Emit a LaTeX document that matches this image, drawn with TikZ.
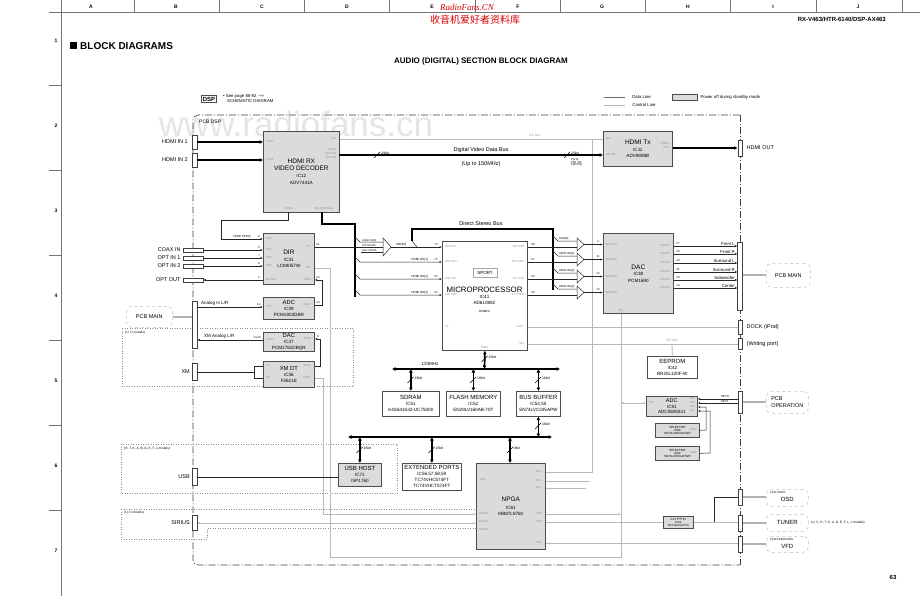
\documentclass[tikz,border=0pt]{standalone}
\usepackage{fontspec}
\setmainfont{Liberation Sans}
\newfontfamily\cjkfont{Noto Sans CJK SC}
\newfontfamily\wmfont{Liberation Serif}
\usetikzlibrary{arrows.meta,positioning}

\newcommand{\fsz}[1]{\fontsize{#1}{#1}\selectfont}
\newcommand{\icx}[1]{{\fsz{4.6}#1}}
\newcommand{\icy}[1]{{\fsz{3}#1}}
% bus width mark: name, x, y, text
\newcommand{\bwmark}[4]{%
  \draw[line width=0.4pt] (#2-3,#3+3) -- (#2+3,#3-3);
  \node[font=\fsz{3.5}, anchor=west] (#1) at (#2+4,#3-2) {#4};}

\begin{document}
\begin{tikzpicture}[
  x=1pt, y=-1pt,
  every node/.style={inner sep=0pt},
  chip/.style={draw=black!70, fill=black!14, line width=0.7pt, align=center, anchor=north west, font=\fsz{6.5}},
  wchip/.style={chip, fill=white},
  pinlbl/.style={font=\fsz{2.8}, text=black!45},
  pno/.style={font=\fsz{2.8}},
  sig/.style={font=\fsz{5.5}},
  lbl/.style={font=\fsz{3.2}},
  dline/.style={black!85, line width=0.5pt},
  cline/.style={black!28, line width=0.8pt},
  bus/.style={line width=1.7pt},
  arr/.style={-{Latex[length=2.5pt,width=2.2pt]}},
  busarr/.style={-{Latex[length=3.5pt,width=4pt]}, line width=1.3pt},
  barr/.style={{Latex[length=3.5pt,width=4pt]}-{Latex[length=3.5pt,width=4pt]}, line width=1.7pt},
  vjack/.style={draw=black!75, fill=white, line width=0.5pt, minimum width=4.5, minimum height=14},
  hjack/.style={draw=black!75, fill=white, line width=0.5pt, minimum width=20, minimum height=4},
  pcb/.style={draw=black!25, dashed, rounded corners=5pt, line width=0.5pt, anchor=north west, font=\fsz{5.5}, align=left},
  link/.style={black!30, line width=2.4pt},
  region/.style={draw=black!45, dotted, line width=0.5pt},
  border/.style={black!75, line width=0.6pt, dash pattern=on 7pt off 2pt on 1pt off 2pt},
  mux/.style={draw=black!85, line width=0.5pt, fill=white}
]
\useasboundingbox (0,0) rectangle (920,596);
\fill[white] (0,0) rectangle (920,596);

% ---------- Page frame ----------
\draw[black!55, line width=0.5pt] (49,12) -- (920,12);
\draw[black!55, line width=0.5pt] (61,0) -- (61,596);
\foreach \xx in {134,219,304,389,475,560,645,730,816,902}
  \draw[black!55, line width=0.5pt] (\xx,0) -- (\xx,12);
\foreach \lt/\xx in {A/91,B/176,C/262,D/347,E/432,F/518,G/602,H/688,I/773,J/858}
  \node[font=\fsz{5}\bfseries] (col\lt) at (\xx,6.5) {\lt};
\foreach \yy in {85,170,255,340,425,510}
  \draw[black!55, line width=0.5pt] (49,\yy) -- (61,\yy);
\foreach \nn/\yy in {1/41,2/126,3/211,4/296,5/381,6/466,7/551}
  \node[font=\fsz{5}\bfseries] (row\nn) at (56,\yy) {\nn};

% ---------- Watermarks ----------
\node[text=black!10, font=\fsz{35}] (wm) at (296,124) {www.radiofans.cn};
\node[text=red!85!black, font=\wmfont\itshape\fsz{9}] (rf) at (467,7) {RadioFans.CN};
\node[text=red!85!black, font=\cjkfont\fsz{10}] (rfcn) at (475,20) {收音机爱好者资料库};

% ---------- Titles ----------
\node[anchor=west, font=\fsz{10}\bfseries] (hdr) at (70,46) {\rule{7pt}{7pt}\hspace{3pt}BLOCK DIAGRAMS};
\node[font=\fsz{8}\bfseries] (ttl) at (481,61) {AUDIO (DIGITAL) SECTION BLOCK DIAGRAM};
\node[anchor=east, font=\fsz{6}\bfseries] (model) at (886,19) {RX-V463/HTR-6140/DSP-AX463};
\node[font=\fsz{6}\bfseries] (pg) at (893,577) {63};

% ---------- Legend ----------
\node[draw=black!70, font=\fsz{6}\bfseries, inner sep=1.2pt] (dsp) at (209,99) {DSP};
\node[anchor=north west, font=\fsz{4.3}, align=left] (dspref) at (223,94) {• See page 85-92 $\rightarrow$\\[1pt]\hspace{4pt}SCHEMATIC DIAGRAM};
\draw[black!60, line width=0.7pt] (604,97) -- (625,97) node[right=7pt, font=\fsz{4.3}, text=black] (lgd) {Data Line};
\draw[cline] (604,105) -- (625,105) node[right=7pt, font=\fsz{4.3}, text=black] (lgc) {Control Line};
\node[draw=black!70, fill=black!14, minimum width=25, minimum height=6, anchor=west] (lgp) at (672,97) {};
\node[right=3pt of lgp, font=\fsz{4.3}] (lgpt) {Power off during standby mode};

% ---------- Model regions ----------
\draw[region] (122,328) rectangle (353,386);
\node[lbl, anchor=west] (reg1) at (125,333) {(U, C models)};
\draw[region] (121,444) rectangle (397,493);
\node[lbl, anchor=west] (reg2) at (124,449) {(R, T, K, A, B, G, E, F, L models)};
\draw[region] (121,509) -- (495,509) -- (495,528) -- (207,528) -- (207,539) -- (121,539) -- cycle;
\node[lbl, anchor=west] (reg3) at (124,513) {(U, C models)};

% ---------- PCB DSP border ----------
\draw[border, rounded corners=5pt] (740,115) -- (193,115) -- (193,565) -- (740,565);
\draw[border] (740,115) -- (740,565);
\node[anchor=west, font=\fsz{5}] (pcbdsp) at (199,122) {PCB DSP};

% ---------- Control lines (under everything) ----------
\draw[cline] (339,139) -- (603,139);
\node[lbl, text=black!40] (i2cbus) at (535,135.5) {I2C Bus};
\draw[cline] (592,139) -- (592,472) -- (545,472);
\draw[cline] (545,481) -- (590,481);
\draw[cline] (545,488) -- (586,488);
\draw[cline] (314,268) -- (330,268) -- (330,557) -- (621,557) -- (621,313);
\draw[cline] (527,327) -- (737.7,327);
\draw[cline] (527,344) -- (737.7,344);
\node[lbl, text=black!40] (spibus) at (672,340.5) {SPI Bus};
\draw[cline, arr] (314,378) -- (323,378) -- (323,514) -- (476,514);
\draw[cline, arr] (545,514) -- (621,514);
\draw[cline, {Latex[length=2.5pt,width=2.2pt]}-{Latex[length=2.5pt,width=2.2pt]}] (621,403) -- (646,403);
\draw[cline, {Latex[length=2.5pt,width=2.2pt]}-{Latex[length=2.5pt,width=2.2pt]}] (197,523) -- (476,523);
\draw[cline] (545,543) -- (737.7,543);
\draw[cline] (545,522) -- (663,522);
\draw[cline] (693,522) -- (737.7,522);

% ---------- HDMI ----------
\node[chip, minimum width=76, minimum height=81] (hdmirx) at (263,131) {HDMI RX\\VIDEO DECODER\\[1pt]\icx{IC12}\\\icx{ADV7441A}};
\node[chip, minimum width=69, minimum height=35] (hdmitx) at (603,131) {HDMI Tx\\[0.5pt]\icx{IC11}\\\icx{ADV9889B}};
\node[vjack] (hin1) at (194.5,142) {};
\node[vjack] (hin2) at (194.5,160) {};
\node[sig, left=4pt of hin1] (hin1l) {HDMI IN 1};
\node[sig, left=4pt of hin2] (hin2l) {HDMI IN 2};
\draw[busarr] (hin1.east) -- (hin1.east -| hdmirx.west);
\draw[busarr] (hin2.east) -- (hin2.east -| hdmirx.west);
\node[vjack, minimum height=16] (hout) at (740,148) {};
\node[sig, right=4pt of hout] (houtl) {HDMI OUT};
\draw[busarr] (hout.west -| hdmitx.east) -- (hout.west);
\draw[busarr] (339,155) -- (603,155);
\bwmark{bw1}{377}{155}{24bit}
\bwmark{bw2}{567}{155}{24bit}
\node[font=\fsz{2.8}, anchor=north west, align=left] (plist) at (571,158) {P[0:9]\\P[11:19]\\P[22:29]};
\node[sig] (dvbus) at (481,150) {Digital Video Data Bus};
\node[sig] (dvspd) at (481,164) {(Up to 150MHz)};
\foreach \t/\xx/\yy in {PortA/266/142, PortB/266/160, I2C/606/139, D[0:23]/606/155}
  \node[pinlbl, anchor=west] (pw-\xx-\yy) at (\xx,\yy) {\t};
\foreach \t/\xx/\yy in {I2C/336/139, P[0:9]/336/150, P[11:19]/336/154, P[22:29]/336/158, TMDS/669/144, Port/669/148}
  \node[pinlbl, anchor=east] (pe-\xx-\yy) at (\xx,\yy) {\t};
\node[pinlbl, anchor=south] (rxsp) at (289,210) {SPDIF};
\node[pinlbl, anchor=south] (rxpcm) at (324,210) {I2S PCM Data};

% ---------- DIR / ADC / XM ----------
\node[chip, minimum width=51, minimum height=51] (dir) at (263,233) {DIR\\[0.5pt]\icx{IC31}\\\icx{LC89057W}};
\node[chip, minimum width=51, minimum height=22, font=\fsz{5.8}] (adc) at (263,297) {ADC\\\icx{IC39}\\\icx{PCM1803DBR}};
\node[chip, minimum width=51, minimum height=19, font=\fsz{5.8}] (xmdac) at (263,332) {DAC\\\icx{IC37}\\\icx{PCM1781DBQR}};
\node[chip, minimum width=51, minimum height=26, font=\fsz{5.8}] (xmdt) at (263,361) {XM DT\\\icx{IC36}\\\icx{F2621E}};
\foreach \t/\xx/\yy in {RX0/266/239, RX1/266/250, RX3/266/258, RX4/266/266, RX OUT/266/280, VIN/266/307, VOUT/266/340, TX/266/366, RX/266/378}
  \node[pinlbl, anchor=west] (pw-\xx-\yy) at (\xx,\yy) {\t};
\foreach \t/\xx/\yy in {P1/311/247, SPI/311/268, SDIN/311/280, DOUT/311/305, DATA/311/339, DATA/311/366, UART/311/378}
  \node[pinlbl, anchor=east] (pe-\xx-\yy) at (\xx,\yy) {\t};
\foreach \t/\xx/\yy in {8/259/237, 5/259/248, 7/259/256, 6/259/264, 1/259/278, 21/318/245, 24/318/278, 10/318/303, 8/318/337}
  \node[pno] (pn-\xx-\yy) at (\xx,\yy) {\t};
\node[pno, anchor=east] (pnadc) at (261,305) {1,2};
\node[pno, anchor=east] (pnxm) at (261,338) {14,15};

\node[hjack] (jcoax) at (193,250) {};
\node[hjack] (jopt1) at (193,258) {};
\node[hjack] (jopt2) at (193,266) {};
\node[hjack] (jout) at (193,280) {};
\node[sig, left=2pt of jcoax] (jcoaxl) {COAX IN};
\node[sig, left=2pt of jopt1] (jopt1l) {OPT IN 1};
\node[sig, left=2pt of jopt2] (jopt2l) {OPT IN 2};
\node[sig, left=2pt of jout] (joutl) {OPT OUT};
\draw[dline, arr] (jcoax.east) -- (jcoax.east -| dir.west);
\draw[dline, arr] (jopt1.east) -- (jopt1.east -| dir.west);
\draw[dline, arr] (jopt2.east) -- (jopt2.east -| dir.west);
\draw[dline, arr] (jout.east -| dir.west) -- (jout.east);

\coordinate (rxspdif) at (288,212);
\coordinate (rxi2s) at (322,212);
\draw[dline, arr] (rxspdif) -- (288,220) -- (221,220) -- (221,239) -- (263,239);
\node[font=\fsz{3}] (hspdif) at (242,236) {HDMI SPDIF};
\draw[dline, arr] (adc.east |- 0,305) -- (322,305) -- (322,280) -- (dir.east |- 0,280);
\draw[dline, arr] (xmdt.east |- 0,366) -- (320,366) -- (320,339) -- (xmdac.east |- 0,339);

\node[draw=black!75, fill=white, line width=0.5pt, minimum width=5, minimum height=47, anchor=north] (jana) at (194.5,301) {};
\node[pcb, minimum width=46, minimum height=21, align=center] (pcbmainl) at (126,306) {PCB MAIN};
\draw[link] (pcbmainl.east) -- (pcbmainl.east -| jana.west);
\draw[dline, arr] (jana.east |- 0,307) -- (adc.west |- 0,307);
\node[font=\fsz{4.5}, anchor=south west] (anain) at (201,305.5) {Analog In L/R};
\draw[dline, arr] (xmdac.west |- 0,340) -- (jana.east |- 0,340);
\node[font=\fsz{4.5}, anchor=south west] (xmana) at (204,338.5) {XM Analog L/R};

\node[vjack, minimum height=17] (jxm) at (194.5,372) {};
\node[sig, left=2pt of jxm] (jxml) {XM};
\draw[dline] (jxm.east) -- (254,372);
\draw[dline] (xmdt.west |- 0,366) -- (254,366) -- (254,378) -- (xmdt.west |- 0,378);

% ---------- Microprocessor ----------
\node[wchip, minimum width=85, minimum height=109] (mcu) at (442,241) {};
\node[draw=black!35, line width=0.4pt, font=\fsz{4.5}, minimum width=24, minimum height=9] (sport) at (485,272.5) {SPORT};
\node[font=\fsz{7.8}] (mcut) at (484.5,290) {MICROPROCESSOR};
\node[font=\fsz{4.6}] (mcuic) at (484.5,297) {IC41};
\node[font=\fsz{4.6}] (mcupn) at (484.5,303) {AD61089Z};
\node[font=\fsz{3}] (mcuclk) at (484.5,311) {333MHz};
\foreach \t/\xx/\yy in {DR0 PRI/445/247, DR0 SEC/445/262, DR1 PRI/445/279, DR1 SEC/445/295, PF/445/327}
  \node[pinlbl, anchor=west] (pw-\xx-\yy) at (\xx,\yy) {\t};
\foreach \t/\xx/\yy in {DT0 PRI/524/247, DT0 SEC/524/262, DT1 PRI/524/279, DT1 SEC/524/295, UART/524/327, SPI/524/344}
  \node[pinlbl, anchor=east] (pe-\xx-\yy) at (\xx,\yy) {\t};
\node[pinlbl, anchor=south] (ebiu) at (485,348.5) {EBIU};
\foreach \t/\xx/\yy in {74/436/245, 75/436/260, 55/436/277, 52/436/293, 68/533/245, 67/533/260, 59/533/277, 58/533/293}
  \node[pno] (pn-\xx-\yy) at (\xx,\yy) {\t};

% left side: HDMI I2S bus and mux
\draw[bus] (rxi2s) -- (322,224) -- (355,224) -- (355,297);
\draw[dline] (355,237) -- (360,242) -- (383,242);
\draw[dline] (dir.east |- 0,247) -- (383,247);
\draw[dline] (361,252) -- (383,252);
\draw[mux] (383,238) -- (391,247) -- (383,256) -- cycle;
\node[font=\fsz{2.6}, anchor=south west] (mx1) at (362,242) {HDMI I2S[0]};
\node[font=\fsz{2.6}, anchor=south west] (mx2) at (362,247) {DIR SDATA};
\node[font=\fsz{2.6}, anchor=south west] (mx3) at (362,252) {ADC SDATA};
\draw[dline, arr] (391,247) -- (mcu.west |- 0,247);
\node[font=\fsz{3}, anchor=south west] (sdo0l) at (396,246) {SDO[0]};
\draw[dline, arr] (355,257) -- (360,262) -- (mcu.west |- 0,262);
\draw[dline, arr] (355,274) -- (360,279) -- (mcu.west |- 0,279);
\draw[dline, arr] (355,290) -- (360,295) -- (mcu.west |- 0,295);
\node[font=\fsz{3}, anchor=south east] (i2s1l) at (428,261) {HDMI I2S[1]};
\node[font=\fsz{3}, anchor=south east] (i2s2l) at (428,278) {HDMI I2S[2]};
\node[font=\fsz{3}, anchor=south east] (i2s3l) at (428,294) {HDMI I2S[3]};

% direct stereo bus
\draw[bus] (412,241) -- (412,229) -- (553,229) -- (553,290);
\draw[dline] (412,241) -- (417,247);
\node[sig] (dsbus) at (481,223.5) {Direct Stereo Bus};

% ---------- DAC (IC38) ----------
\node[chip, minimum width=70, minimum height=80] (dac) at (603,233) {DAC\\\icx{IC38}\\\icx{PCM1690}};
\foreach \yy/\nm [count=\i] in {247/SDO[0], 262/HDMI I2S[1], 279/HDMI I2S[2], 295/HDMI I2S[3]} {
  \draw[dline] (mcu.east |- 0,\yy) -- (577,\yy);
  \draw[dline] (553,\yy-11) -- (558,\yy-6) -- (577,\yy-6);
  \draw[mux] (577,\yy-9) -- (584,\yy-2.5) -- (577,\yy+4) -- cycle;
  \draw[dline, arr] (584,\yy-2.5) -- (dac.west |- 0,\yy-2.5);
  \node[font=\fsz{2.8}, anchor=south west] (ds\i) at (559,\yy-6.5) {\nm};
  \node[pinlbl, anchor=west] (dd\i) at (606,\yy-2.5) {DATA(\i)};
}
\foreach \t/\yy in {4/242, 11/257, 12/274, 15/290}
  \node[pno] (pnd\t) at (598,\yy) {\t};
\foreach \yy/\nm/\pn [count=\i] in {246/Front L/27, 254/Front R/28, 263/Surround L/30, 272/Surround R/31, 280/Subwoofer/20, 288/Center/19} {
  \draw[dline, arr] (dac.east |- 0,\yy) -- (737.5,\yy);
  \node[font=\fsz{4.3}, anchor=south east] (ch\i) at (735,\yy-0.6) {\nm};
  \node[pinlbl, anchor=east] (vo\i) at (670,\yy) {VOUT\i};
  \node[pno] (pv\i) at (678,\yy-2) {\pn};
}
\node[pinlbl, anchor=south] (dacspi) at (621,311.5) {SPI};
\node[draw=black!75, fill=white, line width=0.5pt, minimum width=5, minimum height=68, anchor=north] (jmain) at (740,242) {};
\node[pcb, minimum width=44, minimum height=24, align=center] (pcbmain) at (766,263) {PCB MAIN};
\draw[link] (jmain.east |- pcbmain.west) -- (pcbmain.west);

% ---------- DOCK / writing port ----------
\node[vjack] (jdock) at (740,327) {};
\node[sig, right=4pt of jdock] (jdockl) {DOCK (iPod)};
\node[vjack, minimum height=11] (jwrite) at (740,344) {};
\node[sig, right=4pt of jwrite] (jwritel) {(Writing port)};

% ---------- EEPROM / key ADC ----------
\node[wchip, minimum width=50, minimum height=22, font=\fsz{6}] (eeprom) at (647,356) {EEPROM\\\icx{IC42}\\\icx{BR25L320F-W}};
\draw[cline, arr] (672,344) -- (eeprom.north);
\node[chip, minimum width=51, minimum height=20, font=\fsz{5.6}] (kadc) at (646,396) {ADC\\\icx{IC91}\\\icx{ADC0845021}};
\node[pinlbl, anchor=west] (kspi) at (649,403) {SPI};
\foreach \i/\yy in {1/399, 2/403, 3/407, 4/411}
  \node[pinlbl, anchor=east] (kin\i) at (695,\yy) {IN\i};
\node[chip, minimum width=44, minimum height=14, font=\fsz{3}] (sel1) at (655,423) {SELECTOR\\IC80\\SN74LV4051APWR};
\node[chip, minimum width=44, minimum height=14, font=\fsz{3}] (sel2) at (655,446) {SELECTOR\\IC82\\SN74LV4051APWR};
\node[pinlbl, anchor=east] (com1) at (697,430) {COM};
\node[pinlbl, anchor=east] (com2) at (697,453) {COM};
\draw[dline, arr] (sel1.east) -- (706,430) -- (706,407) -- (kadc.east |- 0,407);
\draw[dline, arr] (sel2.east) -- (710,453) -- (710,411) -- (kadc.east |- 0,411);
\node[vjack, minimum height=22] (jope) at (740,402) {};
\draw[dline, arr] (jope.west |- 0,399) -- (kadc.east |- 0,399);
\draw[dline, arr] (jope.west |- 0,403) -- (kadc.east |- 0,403);
\node[font=\fsz{3}] (key0) at (725,396.5) {KEY0};
\node[font=\fsz{3}] (key1) at (725,401) {KEY1};
\node[pcb, minimum width=42, minimum height=22] (pcbope) at (766,391) {PCB\\[1pt]OPERATION};
\draw[link] (jope.east |- pcbope.west) -- (pcbope.west);

% ---------- Memory bus ----------
\draw[barr] (mcu.south) -- (484.5,369);
\bwmark{bw3}{484.5}{359}{16bit}
\draw[barr] (392,369) -- (560,369);
\node[font=\fsz{4.5}] (clk) at (430,364) {133MHz};
\node[wchip, minimum width=57, minimum height=25, font=\fsz{6}] (sdram) at (382,391) {SDRAM\\\icx{IC51}\\\icx{K4S641632-UC75000}};
\node[wchip, minimum width=54, minimum height=25, font=\fsz{6}] (flash) at (446,391) {FLASH MEMORY\\\icx{IC52}\\\icx{EN29LV160AB-70T}};
\node[wchip, minimum width=44, minimum height=25, font=\fsz{6}] (busbuf) at (516,391) {BUS BUFFER\\\icx{IC54,55}\\\icx{SN74LVC245APW}};
\draw[barr] (sdram.north |- 0,369) -- (sdram.north);
\draw[barr] (flash.north |- 0,369) -- (flash.north);
\draw[barr] (busbuf.north |- 0,369) -- (busbuf.north);
\bwmark{bw4}{410.5}{380}{16bit}
\bwmark{bw5}{473}{380}{16bit}
\bwmark{bw6}{538}{380}{16bit}
\draw[barr] (348,437) -- (552,437);
\draw[barr] (busbuf.south) -- (busbuf.south |- 0,437);
\bwmark{bw7}{538}{426}{16bit}

% ---------- Peripheral bus ----------
\node[chip, minimum width=43, minimum height=23, font=\fsz{6}] (usbhost) at (338,463) {USB HOST\\\icx{IC71}\\\icx{ISP1760}};
\node[wchip, minimum width=59, minimum height=27, font=\fsz{6}] (extp) at (402,463) {EXTENDED PORTS\\\icx{IC56,57,58,59}\\\icx{TC74VHC574FT}\\\icx{TC74VHCT574FT}};
\node[chip, minimum width=69, minimum height=86] (npga) at (476,463) {NPGA\\[1pt]\icx{IC61}\\\icx{MB87L8760}};
\draw[barr] (usbhost.north |- 0,437) -- (usbhost.north);
\draw[barr] (extp.north |- 0,437) -- (extp.north);
\draw[barr] (510,437) -- (510,463);
\bwmark{bw8}{359.5}{450}{16bit}
\bwmark{bw9}{431.5}{450}{16bit}
\bwmark{bw10}{510}{450}{8bit}
\foreach \t/\xx/\yy in {PIO/480/480, UART0/479/514, UART1/479/522, UART2/479/530}
  \node[pinlbl, anchor=west] (pw-\xx-\yy) at (\xx,\yy) {\t};
\foreach \t/\xx/\yy in {I2C0/542/472, I2C1/542/481, I2C2/542/488, SP0/542/514, SP1/542/522, SP2/542/543}
  \node[pinlbl, anchor=east] (pe-\xx-\yy) at (\xx,\yy) {\t};

\node[vjack, minimum height=17] (jusb) at (194.5,477) {};
\node[sig, left=2pt of jusb] (jusbl) {USB};
\draw[dline] (jusb.east) -- (jusb.east -| usbhost.west);
\node[vjack, minimum height=15] (jsir) at (194.5,523) {};
\node[sig, left=2pt of jsir] (jsirl) {SIRIUS};

% ---------- OSD / tuner / VFD ----------
\node[chip, minimum width=30, minimum height=12, font=\fsz{2.8}] (lvl) at (663,516) {3.3V$\leftrightarrow$5V\\IC92\\SN74AVCH2T45};
\node[vjack, minimum height=16] (josd) at (740,497) {};
\node[vjack, minimum height=16] (jtun) at (740,523) {};
\node[vjack, minimum height=16] (jvfd) at (740,544) {};
\draw[dline] (josd.west) -- (714,497) -- (714,522);
\node[pcb, minimum width=42, minimum height=17, align=center, font=\fsz{6}] (osd) at (766,489) {\\[2pt]OSD};
\node[font=\fsz{2.8}, below right=2pt and 4pt of osd.north west] (osdt) {PCB VIDEO};
\node[pcb, minimum width=42, minimum height=17, align=center, font=\fsz{6}] (tuner) at (766,514) {TUNER};
\node[font=\fsz{3.2}, anchor=west] (tunm) at (811,523) {(U, C, R, T, K, A, G, E, F, L, J models)};
\node[pcb, minimum width=42, minimum height=16, align=center, font=\fsz{6}] (vfd) at (766,536) {\\[2pt]VFD};
\node[font=\fsz{2.8}, below right=2pt and 4pt of vfd.north west] (vfdt) {PCB OPERATION};
\draw[link] (josd.east) -- (josd.east -| osd.west);
\draw[link] (jtun.east) -- (jtun.east -| tuner.west);
\draw[link] (jvfd.east) -- (jvfd.east -| vfd.west);

\end{tikzpicture}
\end{document}
